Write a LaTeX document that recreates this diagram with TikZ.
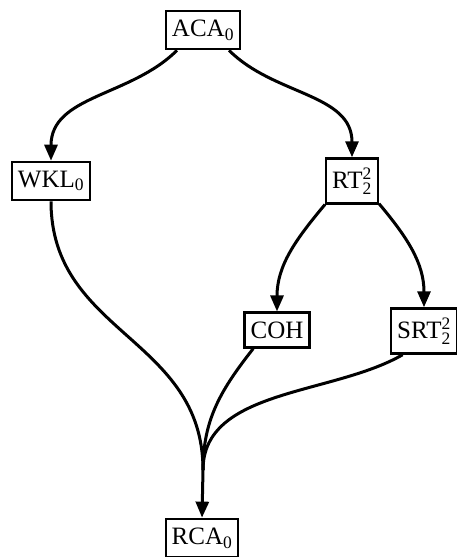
\documentclass[tikz,border=0pt]{standalone}
\usepackage{amsmath}
\usepackage{fontspec}
\setmainfont{Liberation Serif}
\usetikzlibrary{arrows.meta}
\begin{document}
\begin{tikzpicture}[x=1pt,y=1pt,
  sys/.style={draw, line width=2.3pt, inner xsep=6pt, inner ysep=9pt,
    font=\fontsize{25}{29}\selectfont},
  imp/.style={line width=3pt, -{Triangle[length=16pt,width=13pt]}},
  joinline/.style={line width=3pt}]
  \useasboundingbox (0,0) rectangle (457,-557);

  % principles of reverse mathematics
  \node[sys] (aca) at (203,-30)  {ACA$_{\text{0}}$};
  \node[sys] (wkl) at (51,-181)  {WKL$_{\text{0}}$};
  \node[sys] (rt)  at (352,-181) {RT$^{\text{2}}_{\text{2}}$};
  \node[sys] (coh) at (277,-330) {COH};
  \node[sys] (srt) at (424,-331) {SRT$^{\text{2}}_{\text{2}}$};
  \node[sys] (rca) at (202,-538) {RCA$_{\text{0}}$};

  % implications
  \draw[imp] (aca.-142) to[out=-135,in=90] (wkl.north);
  \draw[imp] (aca.-38)  to[out=-45,in=90]  (rt.north);
  \draw[imp] (rt.-139)  to[out=-130,in=90] (coh.north);
  \draw[imp] (rt.-40)   to[out=-50,in=90]  (srt.north);

  % three implications merging into one arrow
  \coordinate (m) at (203,-470);
  \draw[joinline] (wkl.south) to[out=-90,in=90,looseness=1.1] (m);
  \draw[joinline] (coh.-142) to[out=-128,in=90] (m);
  \draw[joinline] (srt.-132) to[out=-150,in=90,looseness=0.9] (m);
  \draw[imp] (m) -- (rca.north);
\end{tikzpicture}
\end{document}
